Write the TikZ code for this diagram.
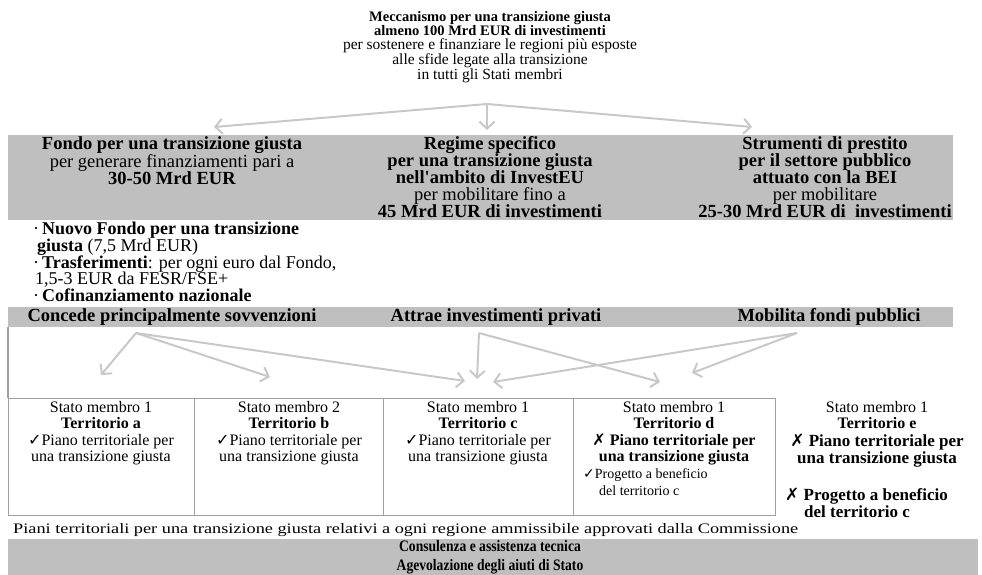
\documentclass[tikz,border=0pt]{standalone}
\usepackage{fontspec}
\usepackage{graphicx}
\setmainfont{Liberation Serif}
\newfontfamily\condfont[FakeStretch=0.85]{Liberation Serif}
\newfontfamily\symf{DejaVu Sans}
\usetikzlibrary{arrows.meta}
\definecolor{bandgray}{HTML}{BFBFBF}
\definecolor{arrgray}{HTML}{C8C8C8}
\definecolor{framegray}{HTML}{A0A0A0}
\newcommand{\ckm}{{\symf\char"2713}}
\newcommand{\xkm}{{\symf\char"2717}}
\begin{document}
\begin{tikzpicture}[x=1pt,y=-1pt,
  garrow/.style={draw=arrgray, line width=2pt, -{Straight Barb[length=7pt,width=15pt]}},
  bandbox/.style={fill=bandgray, draw=none, inner sep=0, anchor=north west},
  statobox/.style={draw=framegray, line width=1.3pt, inner sep=0, anchor=north west, minimum height=117pt},
  titletext/.style={inner sep=0, align=center, font=\fontsize{15.5}{14}\selectfont},
  bandtext/.style={inner sep=0, align=center, font=\fontsize{18.5}{17}\selectfont},
  stext/.style={inner sep=0, align=center, font=\fontsize{16}{16.5}\selectfont},
  sbold/.style={inner sep=0, align=center, font=\bfseries\fontsize{17}{16.5}\selectfont},
]
\useasboundingbox (0,0) rectangle (982,575);

% title
\node[titletext, anchor=north] (title) at (490,11)
 {{\fontsize{14.5}{14}\selectfont\bfseries Meccanismo per una transizione giusta}\\
  {\fontsize{14.5}{14}\selectfont\bfseries almeno 100 Mrd EUR di investimenti}\\
  per sostenere e finanziare le regioni più esposte\\
  alle sfide legate alla transizione\\
  in tutti gli Stati membri};

% band 1
\node[bandbox, minimum width=945pt, minimum height=85pt] (band1) at (8,135) {};
\node[bandtext, anchor=north] (fondo) at (172,136)
 {\textbf{Fondo per una transizione giusta}\\
  per generare finanziamenti pari a\\
  \textbf{30-50 Mrd EUR}};
\node[bandtext, anchor=north] (regime) at (490,136)
 {\textbf{Regime specifico}\\
  \textbf{per una transizione giusta}\\
  \textbf{nell\textquotesingle ambito di InvestEU}\\
  per mobilitare fino a\\
  \textbf{45 Mrd EUR di investimenti}};
\node[bandtext, anchor=north] (strum) at (825,136)
 {\textbf{Strumenti di prestito}\\
  \textbf{per il settore pubblico}\\
  \textbf{attuato con la BEI}\\
  per mobilitare\\
  \textbf{25-30 Mrd EUR di~ investimenti}};

% top arrows
\coordinate (o0) at (487,104);
\coordinate (t1) at (214,127);
\coordinate (t2) at (487,130);
\coordinate (t3) at (752,127);
\draw[garrow] (o0) -- (t1);
\draw[garrow] (o0) -- (t2);
\draw[garrow] (o0) -- (t3);

% bullet list
\node[inner sep=0, align=left, anchor=north west, font=\fontsize{18}{16.7}\selectfont] (bullets) at (33,222)
 {·\,\textbf{Nuovo Fondo per una transizione}\\
  \hspace*{4pt}\textbf{giusta} (7,5 Mrd EUR)\\
  ·\,\textbf{Trasferimenti}: per ogni euro dal Fondo,\\
  \hspace*{2pt}1,5-3 EUR da FESR/FSE+\\
  ·\,\textbf{Cofinanziamento nazionale}};

% band 2
\node[bandbox, minimum width=945pt, minimum height=20pt] (band2) at (8,307) {};
\node[bandtext, font=\bfseries\fontsize{18.5}{17}\selectfont] (concede) at (172,317) {Concede principalmente sovvenzioni};
\node[bandtext, font=\bfseries\fontsize{18.5}{17}\selectfont] (attrae) at (496,317) {Attrae investimenti privati};
\node[bandtext, font=\bfseries\fontsize{18.5}{17}\selectfont] (mobilita) at (829,317) {Mobilita fondi pubblici};

% stato boxes
\node[statobox, minimum width=186pt] (sa) at (8,398) {};
\node[statobox, minimum width=189pt] (sb) at (194,398) {};
\node[statobox, minimum width=190pt] (sc) at (383,398) {};
\node[statobox, minimum width=202pt] (sd) at (573,398) {};
\draw[draw=framegray, line width=1.3pt] (band2.south west) -- (sa.north west);

\node[stext, anchor=north] (ta) at (101,401)
 {Stato membro 1\\ \textbf{Territorio a}\\ \ckm Piano territoriale per\\ una transizione giusta};
\node[stext, anchor=north] (tb) at (289,401)
 {Stato membro 2\\ \textbf{Territorio b}\\ \ckm Piano territoriale per\\ una transizione giusta};
\node[stext, anchor=north] (tc) at (478,401)
 {Stato membro 1\\ \textbf{Territorio c}\\ \ckm Piano territoriale per\\ una transizione giusta};
\node[stext, anchor=north] (td) at (674,401)
 {Stato membro 1\\ \textbf{Territorio d}\\ \xkm\ \textbf{Piano territoriale per}\\ \textbf{una transizione giusta}};
\node[inner sep=0, align=left, anchor=north west, font=\fontsize{14}{17}\selectfont] (tdp) at (583,468)
 {\ckm Progetto a beneficio\\ \hspace*{16pt}del territorio c};
\node[stext, anchor=north] (te1) at (877,401)
 {Stato membro 1\\ \textbf{Territorio e}};
\node[sbold, anchor=north] (te2) at (877,434)
 {\xkm\ Piano territoriale per\\ una transizione giusta};
\node[inner sep=0, align=left, anchor=north west, font=\bfseries\fontsize{17}{17}\selectfont] (tep) at (785,488)
 {\xkm\ Progetto a beneficio\\ \hspace*{19pt}del territorio c};

% lower arrows
\coordinate (oc) at (136,333);
\coordinate (oa) at (479,333);
\coordinate (om) at (797,333);
\coordinate (ha) at (101,375);
\coordinate (hb) at (270,377);
\coordinate (hc1) at (465,381);
\coordinate (hc2) at (477,379);
\coordinate (hc3) at (493,382);
\coordinate (hd1) at (660,382);
\coordinate (hd2) at (692,373);
\draw[garrow] (oc) -- (ha);
\draw[garrow] (oc) -- (hb);
\draw[garrow] (oc) -- (hc1);
\draw[garrow] (oa) -- (hc2);
\draw[garrow] (oa) -- (hd1);
\draw[garrow] (om) -- (hc3);
\draw[garrow] (om) -- (hd2);

% caption
\node[inner sep=0, anchor=west, font=\fontsize{14.5}{14}\selectfont] (caption) at (13,530)
 {\resizebox{785pt}{\height}{Piani territoriali per una transizione giusta relativi a ogni regione ammissibile approvati dalla Commissione}};

% band 3
\node[bandbox, minimum width=970pt, minimum height=40pt] (band3) at (8,539) {};
\node[inner sep=0, align=center, anchor=north, font=\condfont\bfseries\fontsize{16}{19}\selectfont] (cons) at (490,540)
 {Consulenza e assistenza tecnica\\ Agevolazione degli aiuti di Stato};
\end{tikzpicture}
\end{document}
